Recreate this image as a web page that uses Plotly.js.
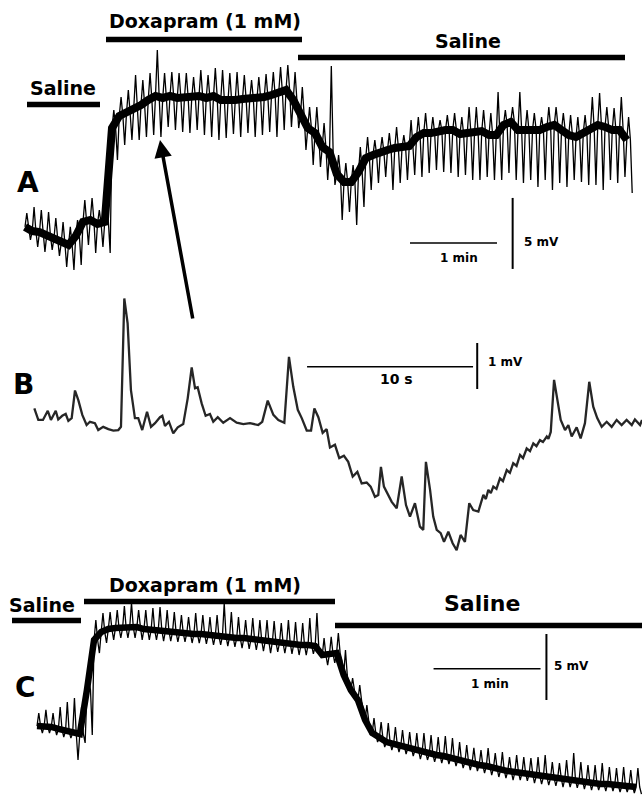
<!DOCTYPE html>
<html>
<head>
<meta charset="utf-8">
<script src="https://cdn.plot.ly/plotly-3.0.1.min.js"></script>
<style>html,body{margin:0;padding:0;background:#fff;}#chart{width:642px;height:799px;}</style>
</head>
<body>
<div id="chart"></div>
<script>
// ---------- Panel A (sampled every 5 s; voltage in mV, relative to saline baseline) ----------
const A_dt = 5;
const A_mid = [0.92,0.63,0.56,0.35,0.14,-0.21,-0.35,0.28,1.27,1.41,1.13,1.27,
  7.88,8.73,8.94,9.29,9.50,9.86,10.14,10.00,10.14,10.00,10.07,10.00,
  10.14,10.00,10.14,9.86,9.79,9.86,9.93,9.93,10.00,10.07,10.21,10.42,
  10.56,9.86,8.80,7.88,7.53,6.55,6.20,4.65,4.08,4.08,4.79,5.77,
  5.98,6.20,6.34,6.48,6.48,6.62,7.25,7.53,7.53,7.67,7.74,7.74,
  7.46,7.53,7.53,7.67,7.39,7.39,8.10,8.31,7.74,7.74,7.74,7.74,
  7.96,8.10,7.74,7.39,7.25,7.53,7.88,8.10,7.96,7.74,7.74,7.04];
const A_hi = [1.90,2.32,2.11,1.97,1.55,1.27,0.92,1.41,2.82,2.96,2.11,2.46,
  9.15,10.07,10.56,11.62,11.26,11.76,13.38,11.76,11.83,11.76,11.76,11.48,
  11.97,11.62,12.11,11.97,11.76,11.83,11.62,11.26,11.48,11.69,11.83,12.18,
  12.32,11.83,10.77,9.36,9.36,8.24,12.25,5.98,5.42,5.28,6.55,7.25,
  7.04,7.25,7.53,7.96,7.39,8.45,8.66,8.94,8.66,8.45,8.80,8.94,
  8.66,9.36,9.36,9.15,8.94,10.42,9.15,9.36,10.42,9.15,8.94,8.66,
  9.36,9.36,8.94,8.80,8.66,8.80,10.07,10.35,9.36,9.29,10.07,8.66];
const A_lo = [0.00,-0.49,-0.84,-0.70,-1.13,-1.90,-2.11,-1.76,-0.35,-0.92,-0.49,-0.92,
  5.63,6.69,7.04,7.04,7.25,7.39,7.25,7.96,7.74,7.60,7.53,7.74,
  7.39,7.25,7.04,7.18,7.46,7.25,7.53,7.25,7.39,7.60,7.25,7.74,
  7.96,7.88,6.34,5.28,5.14,4.22,3.87,1.41,1.97,1.06,2.32,3.52,
  4.01,4.44,3.52,4.01,4.22,4.58,4.44,4.72,4.93,4.79,4.72,4.44,
  4.58,4.22,4.22,4.44,4.22,4.22,4.72,4.22,4.01,4.22,3.73,4.22,
  3.52,4.01,3.73,4.22,4.08,3.87,3.87,3.52,4.22,4.01,4.44,3.31];

// ---------- Panel B (time in s, voltage in mV) ----------
const B_t = [0.02,0.26,0.54,0.83,1.02,1.31,1.46,1.70,1.91,2.07,
  2.27,2.47,2.67,2.91,3.17,3.37,3.67,3.87,4.17,4.48,
  4.78,5.08,5.24,5.44,5.64,5.84,6.08,6.28,6.52,6.81,
  7.05,7.29,7.59,7.73,7.89,8.13,8.39,8.66,8.99,9.26,
  9.50,9.70,9.86,10.10,10.34,10.60,10.80,11.07,11.40,11.81,
  12.21,12.61,13.01,13.51,13.75,14.08,14.42,14.72,15.08,15.22,
  15.36,15.62,15.89,16.13,16.43,16.69,16.89,17.13,17.39,17.63,
  17.83,18.13,18.39,18.67,18.93,19.20,19.48,19.74,20.04,20.28,
  20.54,20.74,20.90,21.08,21.28,21.55,21.85,22.15,22.41,22.65,
  22.95,23.25,23.45,23.61,23.86,24.05,24.26,24.50,24.70,24.96,
  25.22,25.46,25.70,25.96,26.22,26.46,26.77,27.07,27.22,27.37,
  27.52,27.67,27.86,28.07,28.25,28.48,28.67,28.87,29.07,29.28,
  29.46,29.68,29.88,30.08,30.27,30.48,30.66,30.89,30.99,31.13,
  31.33,31.52,31.73,31.99,32.19,32.39,32.69,32.93,33.19,33.45,
  33.69,33.93,34.20,34.50,34.80,35.10,35.40,35.70,36.01,36.20,
  36.51,36.63];
const B_v = [0.36,0.11,0.11,0.31,0.11,0.31,0.12,0.20,0.24,0.09,
  0.15,0.75,0.54,0.22,0.00,0.07,0.04,-0.11,-0.04,-0.09,
  -0.12,-0.11,-0.04,2.75,2.21,0.76,0.15,0.15,-0.11,0.29,
  -0.04,0.04,0.17,0.20,-0.02,0.07,-0.18,-0.05,0.02,0.58,
  1.25,0.80,0.82,0.47,0.20,0.24,0.07,0.17,0.05,0.15,
  0.05,0.02,0.04,0.00,0.07,0.53,0.22,0.11,0.05,0.69,
  1.48,0.83,0.33,0.15,-0.12,-0.12,0.36,0.17,-0.17,-0.09,
  -0.49,-0.43,-0.72,-0.67,-0.80,-1.12,-1.02,-1.27,-1.25,-1.34,
  -1.56,-1.52,-0.91,-1.34,-1.48,-1.67,-1.81,-1.12,-1.74,-1.99,
  -1.70,-2.21,-2.28,-0.80,-1.41,-1.99,-2.28,-2.35,-2.54,-2.32,
  -2.57,-2.72,-2.39,-2.54,-1.70,-1.85,-1.88,-1.52,-1.61,-1.41,
  -1.48,-1.34,-1.39,-1.16,-1.22,-0.98,-1.04,-0.83,-0.89,-0.65,
  -0.72,-0.51,-0.57,-0.40,-0.46,-0.33,-0.37,-0.25,-0.30,-0.15,
  0.98,0.54,0.11,-0.11,0.00,-0.25,-0.05,-0.29,0.04,0.94,
  0.40,0.15,-0.04,0.07,-0.04,0.11,0.00,0.11,0.00,0.12,
  0.00,0.11];

// ---------- Panel C (sampled every 4 s; voltage in mV) ----------
const C_dt = 4;
const C_mid = [0.30,0.30,0.23,0.08,-0.08,-0.23,-0.30,3.03,6.82,7.42,7.65,7.73,
  7.73,7.80,7.80,7.65,7.58,7.58,7.50,7.42,7.35,7.35,7.27,7.27,
  7.20,7.12,7.12,7.05,6.97,6.97,6.89,6.82,6.74,6.67,6.59,6.59,
  6.52,6.44,6.44,6.36,5.68,5.76,5.83,4.17,3.03,2.27,0.76,-0.23,
  -0.61,-0.91,-1.06,-1.21,-1.36,-1.52,-1.67,-1.82,-1.89,-1.97,-2.12,-2.27,
  -2.42,-2.50,-2.65,-2.73,-2.88,-3.03,-3.11,-3.18,-3.26,-3.33,-3.48,-3.56,
  -3.64,-3.64,-3.71,-3.79,-3.86,-3.94,-4.02,-4.09,-4.09,-4.17,-4.24,-4.24,-4.32];
const C_hi = [1.29,1.52,1.29,1.74,2.12,2.42,1.74,3.79,8.33,8.86,8.94,9.09,
  9.39,9.62,9.09,9.09,9.24,9.32,9.09,8.94,8.71,8.56,8.86,8.71,
  8.56,8.71,9.62,8.94,8.56,8.33,8.48,8.33,8.33,8.26,8.11,8.33,
  8.18,8.11,8.48,8.86,6.97,7.05,7.35,6.06,3.94,3.41,1.89,0.91,
  0.61,0.53,0.23,0.00,-0.15,-0.23,-0.23,-0.38,-0.53,-0.45,-0.61,-0.91,
  -1.14,-1.36,-1.52,-1.36,-1.74,-1.67,-2.05,-1.89,-2.05,-2.12,-2.05,-1.89,
  -2.42,-2.50,-2.27,-1.74,-2.42,-2.65,-2.65,-2.50,-2.80,-2.88,-2.80,-3.03,-2.88];
const C_lo = [-0.23,-0.23,-0.38,-0.53,-0.61,-2.27,-0.98,-0.38,5.83,6.59,6.82,6.97,
  6.97,6.97,6.82,6.82,6.82,6.74,6.74,6.67,6.67,6.59,6.59,6.52,
  6.44,6.44,6.36,6.29,6.21,6.14,6.06,5.98,5.83,5.91,5.83,5.76,
  5.68,5.68,5.76,5.61,4.92,5.08,5.30,3.03,2.27,1.36,-0.38,-0.91,
  -1.29,-1.52,-1.67,-1.82,-1.97,-2.20,-2.27,-2.42,-2.50,-2.58,-2.73,-2.88,
  -3.03,-3.11,-3.26,-3.41,-3.56,-3.64,-3.79,-3.79,-3.86,-4.02,-4.09,-4.17,
  -4.24,-4.32,-4.32,-4.39,-4.47,-4.55,-4.55,-4.62,-4.62,-4.70,-4.70,-4.77,-4.85];

// ---------- Labels ----------
const stimLabels = ['Saline', 'Doxapram (1 mM)', 'Saline'];
const panelLabels = ['A', 'B', 'C'];
const scaleLabelsA = ['1 min', '5 mV'];
const scaleLabelsB = ['10 s', '1 mV'];
const scaleLabelsC = ['1 min', '5 mV'];

// ---------- Build traces ----------
function times(n, dt) { return Array.from({length: n}, (_, i) => i * dt); }
// each sample: centre of the noise band, its upward excursion, centre, its downward excursion
function noisy(dt, mid, hi, lo) {
  const x = [], y = [];
  mid.forEach((m, i) => {
    const t = i * dt;
    x.push(t, t + dt / 4, t + dt / 2, t + 3 * dt / 4);
    y.push(m, hi[i], m, lo[i]);
  });
  return {x, y};
}
const aN = noisy(A_dt, A_mid, A_hi, A_lo);
const cN = noisy(C_dt, C_mid, C_hi, C_lo);

const traces = [
  {x: times(A_mid.length, A_dt), y: A_mid, xaxis: 'x', yaxis: 'y', mode: 'lines', line: {color: '#000', width: 8}, hoverinfo: 'skip'},
  {x: aN.x, y: aN.y, xaxis: 'x', yaxis: 'y', mode: 'lines', line: {color: '#000', width: 1.3}, hoverinfo: 'skip'},
  {x: B_t, y: B_v, xaxis: 'x2', yaxis: 'y2', mode: 'lines', line: {color: '#262626', width: 2.3}, hoverinfo: 'skip'},
  {x: times(C_mid.length, C_dt), y: C_mid, xaxis: 'x3', yaxis: 'y3', mode: 'lines', line: {color: '#000', width: 6.5}, hoverinfo: 'skip'},
  {x: cN.x, y: cN.y, xaxis: 'x3', yaxis: 'y3', mode: 'lines', line: {color: '#000', width: 1.3}, hoverinfo: 'skip'}
];

// ---------- Layout helpers (pixel -> paper) ----------
const W = 642, H = 799;
const px = v => v / W, py = v => 1 - v / H;
const FONT = 'DejaVu Sans';
function label(text, x, y, size) {
  return {text: '<b>' + text + '</b>', x: px(x), y: py(y), xref: 'paper', yref: 'paper',
    xanchor: 'center', yanchor: 'middle', showarrow: false,
    font: {family: FONT, size: size, color: '#000'}};
}
function bar(x0, x1, y, w) {
  return {type: 'line', xref: 'paper', yref: 'paper', x0: px(x0), x1: px(x1), y0: py(y), y1: py(y),
    line: {color: '#000', width: w}};
}
function dline(xr, yr, x0, y0, x1, y1, w) {
  return {type: 'line', xref: xr, yref: yr, x0: x0, y0: y0, x1: x1, y1: y1, line: {color: '#000', width: w}};
}
const hid = {visible: false, fixedrange: true, domain: [0, 1]};

const layout = {
  width: W, height: H, margin: {l: 0, r: 0, t: 0, b: 0},
  paper_bgcolor: '#fff', plot_bgcolor: '#fff', showlegend: false,
  xaxis: Object.assign({}, hid, {range: [-17.24, 425.5]}),
  yaxis: Object.assign({}, hid, {range: [-39.37, 16.90]}),
  xaxis2: Object.assign({}, hid, {range: [-2.048, 36.627], overlaying: 'x'}),
  yaxis2: Object.assign({}, hid, {range: [-8.130, 9.239], overlaying: 'y'}),
  xaxis3: Object.assign({}, hid, {range: [-20.75, 339.3], overlaying: 'x'}),
  yaxis3: Object.assign({}, hid, {range: [-5.227, 55.30], overlaying: 'y'}),
  shapes: [
    // stimulus bars
    bar(27, 100, 104.5, 5.5), bar(106, 302, 39.5, 5.5), bar(298, 625, 57.5, 5.5),
    bar(12, 81, 620.5, 5.5), bar(84, 335, 601.5, 5.5), bar(335, 642, 625.5, 5.5),
    // scale bars (data units: 60 s / 5 mV, 10 s / 1 mV)
    dline('x', 'y', 265.5, -0.21, 325.5, -0.21, 1.5), dline('x', 'y', 336.3, 2.96, 336.3, -2.04, 2),
    dline('x2', 'y2', 16.45, 1.267, 26.45, 1.267, 1.5), dline('x2', 'y2', 26.70, 1.783, 26.70, 0.783, 2),
    dline('x3', 'y3', 222.4, 4.644, 282.4, 4.644, 1.5), dline('x3', 'y3', 285.7, 7.273, 285.7, 2.273, 2)
  ],
  annotations: [
    label(stimLabels[0], 63, 88.5, 19), label(stimLabels[1], 205, 21, 19), label(stimLabels[2], 467.5, 40.5, 19),
    label(panelLabels[0], 27.5, 182.5, 28),
    label(scaleLabelsA[0], 459, 258, 12), label(scaleLabelsA[1], 541.5, 242, 12),
    label(panelLabels[1], 23.5, 384, 28),
    label(scaleLabelsB[0], 396.5, 378.5, 14), label(scaleLabelsB[1], 505.5, 362, 12),
    label(stimLabels[0], 41.7, 604.5, 19), label(stimLabels[1], 204.5, 584.5, 19), label(stimLabels[2], 481.5, 603.5, 22),
    label(panelLabels[2], 25, 687.5, 28),
    label(scaleLabelsC[0], 490, 684, 12), label(scaleLabelsC[1], 571, 666, 12),
    // arrow from panel B burst up to panel A
    {text: '', x: px(160), y: py(140), xref: 'paper', yref: 'paper', showarrow: true,
     ax: 33, ay: 180, arrowhead: 2, arrowsize: 1, arrowwidth: 3.5, arrowcolor: '#000', standoff: 0}
  ]
};

Plotly.newPlot('chart', traces, layout, {staticPlot: true, displayModeBar: false});
</script>
</body>
</html>
